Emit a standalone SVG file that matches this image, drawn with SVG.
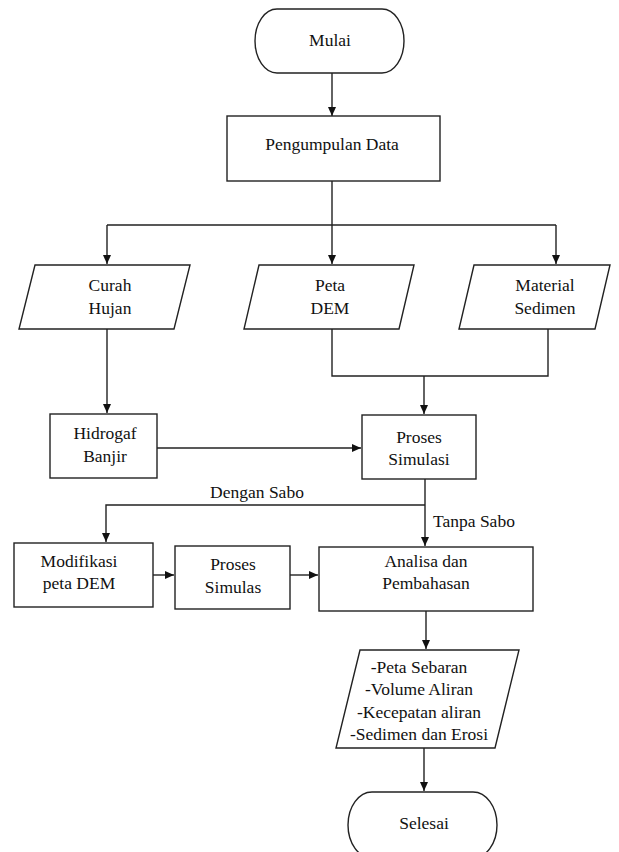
<svg xmlns="http://www.w3.org/2000/svg" width="619" height="852" viewBox="0 0 619 852">
<defs>
<marker id="ah" markerWidth="10" markerHeight="10" refX="9" refY="5" orient="auto" markerUnits="userSpaceOnUse">
<path d="M0,1 L9,5 L0,9 Z" fill="#111"/>
</marker>
<style>
.s{fill:#fff;stroke:#222;stroke-width:1.4}
.t{font-family:"Liberation Serif","Times New Roman",serif;font-size:17.5px;fill:#111;text-anchor:middle}
.c{fill:none;stroke:#222;stroke-width:1.4}
.a{marker-end:url(#ah)}
</style>
</defs>
<rect width="619" height="852" fill="#fff"/>
<g id="connectors">
<path class="c a" d="M332,73 V116"/>
<path class="c" d="M332,181 V225 M107,225 H556"/>
<path class="c a" d="M107,225 V264"/>
<path class="c a" d="M332,225 V264"/>
<path class="c a" d="M556,225 V264"/>
<path class="c a" d="M107,329 V413"/>
<path class="c" d="M332,329 V376 H548 V329"/>
<path class="c a" d="M424,376 V414"/>
<path class="c a" d="M157,448 H361"/>
<path class="c a" d="M425,479 V546"/>
<path class="c a" d="M425,505 H106 V542"/>
<path class="c a" d="M153,575 H174"/>
<path class="c a" d="M290,575 H318"/>
<path class="c a" d="M426,611 V649"/>
<path class="c a" d="M424,748 V791"/>
<text class="t" x="257" y="498">Dengan Sabo</text>
<text class="t" x="433" y="527" style="text-anchor:start">Tanpa Sabo</text>
</g>
<g id="mulai">
<rect class="s" x="255" y="9" width="149" height="64" rx="22" ry="32"/>
<text class="t" x="330" y="46">Mulai</text>
</g>
<g id="pengumpulan">
<rect class="s" x="227" y="116" width="213" height="65"/>
<text class="t" x="332" y="150">Pengumpulan Data</text>
</g>
<g id="curah">
<polygon class="s" points="35,265 190,265 174,329 19,329"/>
<text class="t" x="110" y="291">Curah</text>
<text class="t" x="110" y="314">Hujan</text>
</g>
<g id="peta">
<polygon class="s" points="259,265 414,265 399,329 244,329"/>
<text class="t" x="330" y="291">Peta</text>
<text class="t" x="330" y="314">DEM</text>
</g>
<g id="material">
<polygon class="s" points="474,265 610,265 595,329 459,329"/>
<text class="t" x="545" y="291">Material</text>
<text class="t" x="545" y="314">Sedimen</text>
</g>
<g id="hidrograf">
<rect class="s" x="50" y="414" width="107" height="64"/>
<text class="t" x="105" y="439">Hidrogaf</text>
<text class="t" x="105" y="462">Banjir</text>
</g>
<g id="proses-simulasi">
<rect class="s" x="362" y="415" width="114" height="64"/>
<text class="t" x="419" y="443">Proses</text>
<text class="t" x="419" y="465">Simulasi</text>
</g>
<g id="modifikasi">
<rect class="s" x="14" y="543" width="139" height="64"/>
<text class="t" x="79" y="567">Modifikasi</text>
<text class="t" x="79" y="589">peta DEM</text>
</g>
<g id="proses-simulas">
<rect class="s" x="175" y="546" width="115" height="63"/>
<text class="t" x="233" y="570">Proses</text>
<text class="t" x="233" y="593">Simulas</text>
</g>
<g id="analisa">
<rect class="s" x="319" y="547" width="214" height="64"/>
<text class="t" x="426" y="567">Analisa dan</text>
<text class="t" x="426" y="589">Pembahasan</text>
</g>
<g id="hasil">
<polygon class="s" points="360,650 519,650 495,748 336,748"/>
<text class="t" x="419" y="673">-Peta Sebaran</text>
<text class="t" x="419" y="695">-Volume Aliran</text>
<text class="t" x="419" y="718">-Kecepatan aliran</text>
<text class="t" x="419" y="740">-Sedimen dan Erosi</text>
</g>
<g id="selesai">
<rect class="s" x="348" y="792" width="149" height="66" rx="24" ry="33"/>
<text class="t" x="424" y="829">Selesai</text>
</g>
</svg>
